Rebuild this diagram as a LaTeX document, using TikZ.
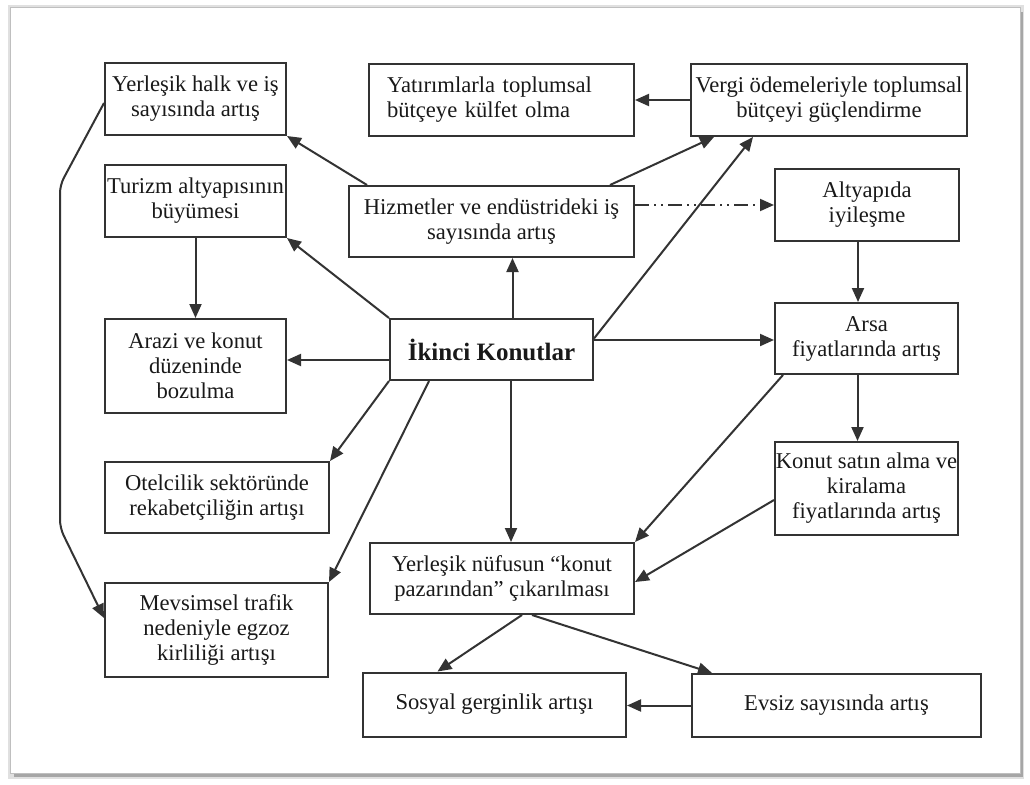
\documentclass[tikz,border=0pt]{standalone}
\usepackage{fontspec}
\setmainfont{Liberation Serif}
\usepackage{tikz}
\usetikzlibrary{arrows.meta}

\tikzset{
  box/.style={draw=black!80, line width=2pt, fill=white, inner sep=0pt,
    align=center, font=\fontsize{22.6}{25}\selectfont, text=black!90},
  arr/.style={draw=black!80, line width=2pt, -{Triangle[length=14pt,width=12pt]}},
  dashdot/.style={dash pattern=on 14pt off 5pt on 2pt off 5pt on 2pt off 5pt},
}

\begin{document}
\begin{tikzpicture}[x=1pt,y=-1pt]
  \useasboundingbox (0,0) rectangle (1030,784);
  % frame with shadow
  \fill[black!12] (8,5) rectangle (1024,779);
  \fill[black!35] (14,12) rectangle (1023,777);
  \fill[white] (10,7) rectangle (1020,773);
  \draw[black!25, line width=0.8pt] (10,7) rectangle (1020,773);

  % left column
  \node[box, minimum width=181pt, minimum height=72pt] (halk) at (195.5,99)
    {Yerleşik halk ve iş\\sayısında artış};
  \node[box, minimum width=181pt, minimum height=72pt] (turizm) at (195.5,201)
    {Turizm altyapısının\\büyümesi};
  \node[box, minimum width=181pt, minimum height=94pt] (arazi) at (195.5,366)
    {Arazi ve konut\\düzeninde\\bozulma};
  \node[box, minimum width=224pt, minimum height=71pt] (otel) at (217,497.5)
    {Otelcilik sektöründe\\rekabetçiliğin artışı};
  \node[box, minimum width=223pt, minimum height=94pt] (mevsim) at (216.5,630)
    {Mevsimsel trafik\\nedeniyle egzoz\\kirliliği artışı};

  % middle and right
  \node[box, minimum width=265pt, minimum height=72pt, align=left, text width=229pt] (yatirim) at (501.5,100)
    {Yatırımlarla toplumsal\\bütçeye külfet olma};
  \node[box, minimum width=276pt, minimum height=72pt] (vergi) at (829,100)
    {Vergi ödemeleriyle toplumsal\\bütçeyi güçlendirme};
  \node[box, minimum width=285pt, minimum height=71pt] (hizmet) at (491.5,221.5)
    {Hizmetler ve endüstrideki iş\\sayısında artış};
  \node[box, minimum width=184pt, minimum height=72pt] (altyapi) at (867,205)
    {Altyapıda\\iyileşme};
  \node[box, minimum width=203pt, minimum height=61pt,
        font=\fontsize{25}{28}\selectfont\bfseries] (ikinci) at (491.5,349.5)
    {İkinci Konutlar};
  \node[box, minimum width=183pt, minimum height=71pt] (arsa) at (866.5,338.5)
    {Arsa\\fiyatlarında artış};
  \node[box, minimum width=183pt, minimum height=93pt] (konut) at (866.5,488.5)
    {Konut satın alma ve\\kiralama\\fiyatlarında artış};
  \node[box, minimum width=264pt, minimum height=71pt] (nufus) at (502,578.5)
    {Yerleşik nüfusun “konut\\pazarından” çıkarılması};
  \node[box, minimum width=263pt, minimum height=64pt] (sosyal) at (494.5,704.5)
    {Sosyal gerginlik artışı};
  \node[box, minimum width=289pt, minimum height=63pt] (evsiz) at (836.5,705.5)
    {Evsiz sayısında artış};

  \coordinate (bendA) at (60,185);
  \coordinate (bendB) at (60,528);

  % connectors
  \draw[arr] ([xshift=21pt]ikinci.north) -- ([xshift=21pt]hizmet.south);
  \draw[arr] ([xshift=19.5pt]ikinci.south) -- ([xshift=9pt]nufus.north);
  \draw[arr] ([yshift=-10.5pt]ikinci.west) -- ([yshift=6pt]arazi.east);
  \draw[arr] ([yshift=9.5pt]ikinci.east) -- ([yshift=-1.5pt]arsa.west);
  \draw[arr] (ikinci.north west) -- (turizm.south east);
  \draw[arr] ([yshift=11pt]ikinci.east) -- ([xshift=63pt]vergi.south west);
  \draw[arr] (ikinci.south west) -- (otel.north east);
  \draw[arr] ([xshift=40pt]ikinci.south west) -- (mevsim.north east);
  \draw[arr] ([xshift=19pt]hizmet.north west) -- (halk.south east);
  \draw[arr] ([xshift=-25pt]hizmet.north east) -- ([xshift=24pt]vergi.south west);
  \draw[arr, dashdot] ([yshift=16.5pt]hizmet.east) -- (altyapi.west);
  \draw[arr] (vergi.west) -- (yatirim.east);
  \draw[arr] (turizm.south) -- (arazi.north);
  \draw[arr] ([xshift=-9pt]altyapi.south) -- ([xshift=-8.5pt]arsa.north);
  \draw[arr] ([xshift=-9pt]arsa.south) -- ([xshift=-9pt]konut.north);
  \draw[arr] ([xshift=9pt]arsa.south west) -- (nufus.north east);
  \draw[arr] ([yshift=-11.5pt]konut.west) -- ([yshift=-3.5pt]nufus.east);
  \draw[arr, rounded corners=8pt] ([yshift=-4pt]halk.west) -- (bendA) -- (bendB)
    -- ([yshift=12pt]mevsim.west);
  \draw[arr] ([xshift=20pt]nufus.south) -- ([xshift=-57pt]sosyal.north);
  \draw[arr] ([xshift=30pt]nufus.south) -- ([xshift=21pt]evsiz.north west);
  \draw[arr] (evsiz.west) -- (evsiz.west -| sosyal.east);
\end{tikzpicture}
\end{document}
